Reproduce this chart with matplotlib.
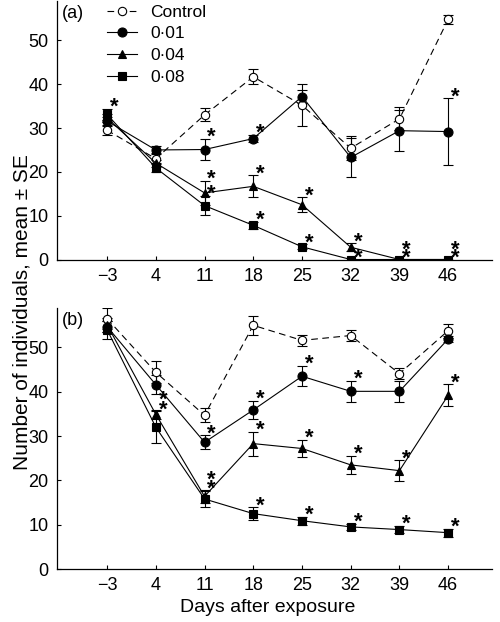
import matplotlib
matplotlib.use("Agg")
import matplotlib.pyplot as plt

plt.rcParams["font.family"] = ["Liberation Sans", "DejaVu Sans"]

# ---- data (mean and SE per sampling day)
days = [-3, 4, 11, 18, 25, 32, 39, 46]
labels = ["Control", "0·01", "0·04", "0·08"]

a_ctrl = [29.5, 23.0, 33.0, 41.7, 35.2, 25.4, 32.1, 54.8]
a_ctrl_se = [1.0, 1.0, 1.5, 1.7, 4.8, 2.7, 2.6, 1.0]
a_c01 = [31.6, 25.0, 25.1, 27.6, 37.2, 23.3, 29.4, 29.2]
a_c01_se = [1.0, 0.8, 2.5, 0.8, 1.5, 4.5, 4.7, 7.6]
a_c04 = [32.3, 22.0, 15.2, 16.7, 12.5, 2.8, 0.0, 0.0]
a_c04_se = [1.0, 0.8, 2.7, 2.5, 1.7, 0.9, 0.0, 0.0]
a_c08 = [33.1, 20.9, 12.3, 7.8, 2.9, 0.0, 0.0, 0.0]
a_c08_se = [1.3, 1.0, 2.2, 0.8, 0.6, 0.0, 0.0, 0.0]

b_ctrl = [56.5, 44.4, 34.7, 55.0, 51.6, 52.7, 44.1, 53.8]
b_ctrl_se = [2.3, 2.5, 1.6, 2.2, 1.2, 1.3, 1.2, 1.6]
b_c01 = [54.7, 41.6, 28.6, 35.9, 43.5, 40.1, 40.1, 51.9]
b_c01_se = [1.2, 2.1, 1.6, 2.1, 2.3, 2.4, 2.4, 0.6]
b_c04 = [55.1, 34.9, 16.4, 28.3, 27.2, 23.5, 22.2, 39.2]
b_c04_se = [1.5, 1.1, 1.5, 2.7, 1.9, 2.0, 2.3, 2.5]
b_c08 = [54.0, 32.0, 15.8, 12.5, 10.9, 9.5, 8.9, 8.2]
b_c08_se = [2.0, 3.6, 1.8, 1.4, 0.9, 0.7, 0.8, 0.9]

# days with a significant difference from control (asterisks)
a_stars = {"0·01": [11, 18, 46],
           "0·04": [11, 18, 25, 32, 39, 46],
           "0·08": [-3, 11, 18, 25, 32, 39, 46]}
b_stars = {"0·01": [11, 18, 25, 32],
           "0·04": [4, 11, 18, 25, 32, 39, 46],
           "0·08": [4, 11, 18, 25, 32, 39, 46]}

styles = {
    "Control": dict(marker="o", mfc="white", ms=6, ls=(0, (6, 4))),
    "0·01": dict(marker="o", mfc="black", ms=6.5, ls="-"),
    "0·04": dict(marker="^", mfc="black", ms=5.5, ls="-"),
    "0·08": dict(marker="s", mfc="black", ms=6, ls="-"),
}

W, H = 500, 622
fig = plt.figure(figsize=(W / 100, H / 100), dpi=100)
ax_a = fig.add_axes([57 / W, 1 - 259.5 / H, 435 / W, 258.5 / H])
ax_b = fig.add_axes([57 / W, 1 - 569 / H, 435 / W, 261.4 / H])


def draw_panel(ax, series, stars, tag, legend=False):
    lines = []
    for name, (m, se) in series.items():
        st = styles[name]
        ax.errorbar(days, m, yerr=se, fmt="none", ecolor="black",
                    elinewidth=0.8, capsize=3.5, capthick=0.8, zorder=2)
        ln, = ax.plot(days, m, color="black", lw=0.8, ls=st["ls"],
                      marker=st["marker"], mfc=st["mfc"], mec="black",
                      ms=st["ms"], mew=0.8, label=name, zorder=3)
        lines.append(ln)

    # asterisks just right of the error bar top; stack when they coincide
    placed = {}
    for name in ["0·08", "0·04", "0·01"]:
        m, se = series[name]
        for d in stars.get(name, []):
            i = days.index(d)
            top = m[i] + se[i]
            shift = 0
            for y0 in placed.get(d, []):
                if abs(y0 - top) < 1.5:
                    shift += 6
            placed.setdefault(d, []).append(top)
            ax.annotate("*", xy=(d, top), xytext=(2, 1 + shift),
                        textcoords="offset points", ha="left", va="center",
                        fontsize=16, fontweight="bold")

    ax.set_xlim(-10.2, 52.3)
    ax.set_ylim(0, 59)
    ax.set_xticks(days)
    ax.set_xticklabels(["\u22123"] + [str(d) for d in days[1:]])
    ax.set_yticks([0, 10, 20, 30, 40, 50])
    ax.tick_params(direction="in", length=3, width=0.8, labelsize=13,
                   pad=6)
    for s in ["top", "right"]:
        ax.spines[s].set_visible(False)
    for s in ["left", "bottom"]:
        ax.spines[s].set_linewidth(0.9)
    ax.text(0.012, 0.985, tag, transform=ax.transAxes, fontsize=13,
            ha="left", va="top")
    if legend:
        ax.legend(handles=lines, loc="upper left",
                  bbox_to_anchor=(0.095, 1.02), frameon=False, fontsize=12.5,
                  handlelength=1.75, handletextpad=0.75, labelspacing=0.38,
                  borderpad=0)


draw_panel(ax_a, {"Control": (a_ctrl, a_ctrl_se), "0·01": (a_c01, a_c01_se),
                  "0·04": (a_c04, a_c04_se), "0·08": (a_c08, a_c08_se)},
           a_stars, "(a)", legend=True)
draw_panel(ax_b, {"Control": (b_ctrl, b_ctrl_se), "0·01": (b_c01, b_c01_se),
                  "0·04": (b_c04, b_c04_se), "0·08": (b_c08, b_c08_se)},
           b_stars, "(b)")

fig.text(22 / W, 1 - 312 / H, "Number of individuals, mean \u00b1 SE",
         rotation=90, ha="center", va="center", fontsize=15)
fig.text(268 / W, 1 - 607 / H, "Days after exposure", ha="center",
         va="center", fontsize=14)

fig.savefig("out.png", dpi=100)
